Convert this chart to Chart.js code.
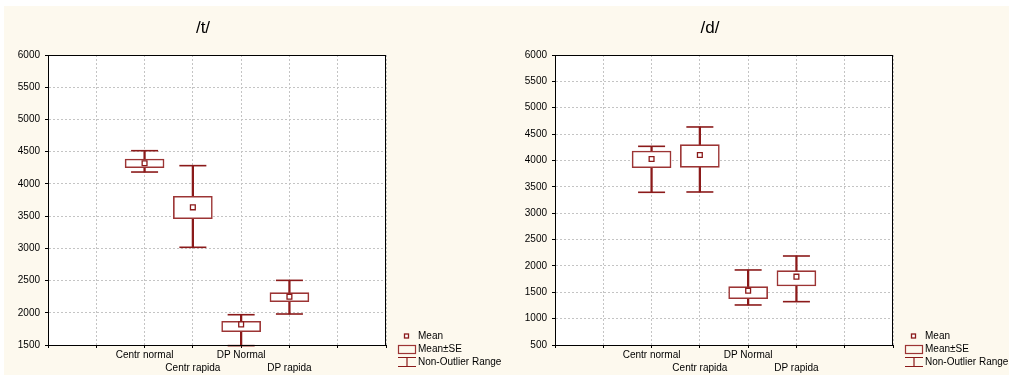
<!DOCTYPE html>
<html>
<head>
<meta charset="utf-8">
<script src="https://cdn.jsdelivr.net/npm/chart.js@4/dist/chart.umd.min.js"></script>
<style>
  html, body { margin: 0; padding: 0; background: #ffffff; }
  body { width: 1009px; height: 379px; position: relative; overflow: hidden; }
  #panel { position: absolute; left: 4px; top: 6px; width: 1005px; height: 369px; background: #fdf9ee; }
  .cell { position: absolute; top: 0; height: 379px; }
</style>
</head>
<body>
<div id="panel"></div>
<div class="cell" style="left:0;width:505px"><canvas id="chartT"></canvas></div>
<div class="cell" style="left:505px;width:504px"><canvas id="chartD"></canvas></div>
<script>
// Groups and where they sit on the 0..7 category axis
const categories = ['Centr normal', 'Centr rapida', 'DP Normal', 'DP rapida'];
const categoryPositions = [2, 3, 4, 5];

// /t/ : mean, mean±SE, non-outlier range
const tMean   = [4320, 3636, 1820, 2250];
const tSeLow  = [4251, 3460, 1707, 2172];
const tSeHigh = [4386, 3807, 1867, 2312];
const tMin    = [4184, 3016, 1490, 1981];
const tMax    = [4515, 4283, 1970, 2503];

// /d/ : mean, mean±SE, non-outlier range
const dMean   = [4028, 4104, 1531, 1796];
const dSeLow  = [3863, 3870, 1379, 1619];
const dSeHigh = [4179, 4299, 1606, 1910];
const dMin    = [3396, 3402, 1259, 1322];
const dMax    = [4268, 4635, 1923, 2188];

// y-axis tick ranges
const tAxis = { min: 1500, max: 6000, step: 500 };
const dAxis = { min: 500, max: 6000, step: 500 };

const legendLabels = ['Mean', 'Mean±SE', 'Non-Outlier Range'];

const RED = '#8b1a1a';
const BOX = '#9c3434';
const GRID = '#c4c4c4';
const FONT = "'Liberation Sans', Arial, sans-serif";
const TITLE_FONT = "'Liberation Sans Narrow', 'Arial Narrow', " + FONT;

function buildDatasets(mean, lo, hi, mn, mx) {
  const caps = [];
  categoryPositions.forEach((x, i) => { caps.push({ x, y: mn[i] }); caps.push({ x, y: mx[i] }); });
  return [
    {
      type: 'line', label: legendLabels[0], order: 0, clip: false,
      data: categoryPositions.map((x, i) => ({ x, y: mean[i] })),
      showLine: false, pointStyle: 'rect', pointRadius: 3.4, pointHoverRadius: 3.4,
      pointBorderWidth: 1.3, pointBorderColor: RED, pointBackgroundColor: '#ffffff'
    },
    {
      type: 'bar', label: legendLabels[1], order: 1, clip: false, grouped: false,
      data: categoryPositions.map((x, i) => ({ x, y: [lo[i], hi[i]] })),
      backgroundColor: '#ffffff', borderColor: BOX, borderWidth: 1.6,
      borderSkipped: false, barThickness: 39
    },
    {
      type: 'line', label: legendLabels[2], order: 2, clip: false,
      data: caps, showLine: false, pointStyle: 'line',
      pointRadius: 13.5, pointHoverRadius: 13.5, pointBorderWidth: 1.6, pointBorderColor: RED
    },
    {
      type: 'bar', label: 'range', order: 3, clip: false, grouped: false,
      data: categoryPositions.map((x, i) => ({ x, y: [mn[i], mx[i]] })),
      backgroundColor: RED, borderWidth: 0, barThickness: 1.6
    }
  ];
}

// White plotting area, closed frame, panel title and the Mean / SE / range key
const framePlugin = {
  id: 'frameKey',
  beforeDraw(chart) {
    const { ctx, chartArea: a } = chart;
    ctx.save();
    ctx.fillStyle = '#ffffff';
    ctx.fillRect(a.left, a.top, a.width, a.height);
    ctx.restore();
  },
  afterDraw(chart, args, opts) {
    const { ctx, chartArea: a } = chart;
    ctx.save();
    ctx.strokeStyle = '#000000';
    ctx.lineWidth = 1;
    ctx.strokeRect(Math.round(a.left) + 0.5, Math.round(a.top) + 0.5,
                   Math.round(a.width) - 1, Math.round(a.height));

    // panel title
    ctx.fillStyle = '#000000';
    ctx.font = '17px ' + TITLE_FONT;
    ctx.textAlign = 'center';
    ctx.textBaseline = 'middle';
    ctx.fillText(opts.title, (a.left + a.right) / 2 - 14, 28);

    // key
    const x0 = a.right + 12;
    const yMean = a.bottom - 9;
    ctx.font = '10px ' + FONT;
    ctx.textAlign = 'left';
    const tx = a.right + 32;
    ctx.fillText(legendLabels[0], tx, yMean);
    ctx.fillText(legendLabels[1], tx, yMean + 13);
    ctx.fillText(legendLabels[2], tx, yMean + 26);

    ctx.strokeStyle = RED;
    ctx.fillStyle = '#ffffff';
    ctx.lineWidth = 1.3;
    ctx.fillRect(x0 + 6.5, yMean - 2, 4, 4);
    ctx.strokeRect(x0 + 6.5, yMean - 2, 4, 4);

    ctx.strokeStyle = BOX;
    ctx.lineWidth = 1.2;
    ctx.strokeRect(x0 + 0.5, yMean + 9.5, 17, 8);

    ctx.strokeStyle = RED;
    ctx.beginPath();
    ctx.moveTo(x0, yMean + 21.5); ctx.lineTo(x0 + 18, yMean + 21.5);
    ctx.moveTo(x0 + 9, yMean + 21.5); ctx.lineTo(x0 + 9, yMean + 30.5);
    ctx.moveTo(x0, yMean + 30.5); ctx.lineTo(x0 + 18, yMean + 30.5);
    ctx.stroke();
    ctx.restore();
  }
};

function xLabel(v) {
  const i = categoryPositions.indexOf(v);
  if (i < 0) return '';
  return i % 2 === 1 ? ['', categories[i]] : categories[i];
}

function buildChart(id, title, axis, datasets, pad) {
  return new Chart(document.getElementById(id), {
    type: 'bar',
    data: { datasets },
    plugins: [framePlugin],
    options: {
      responsive: true,
      maintainAspectRatio: false,
      animation: false,
      events: [],
      layout: { padding: pad },
      plugins: {
        legend: { display: false },
        tooltip: { enabled: false },
        title: { display: false },
        frameKey: { title }
      },
      scales: {
        x: {
          type: 'linear', min: 0, max: 7, offset: false,
          afterFit(s) { s.height = 30; },
          ticks: {
            stepSize: 1, autoSkip: false, maxRotation: 0, padding: 1,
            color: '#000000', font: { family: FONT, size: 10, lineHeight: 1.3 },
            callback: xLabel
          },
          grid: { offset: false, color: GRID, tickColor: '#000000', tickLength: 3, lineWidth: 1 },
          border: { display: true, color: '#000000', width: 1, dash: [2, 2] }
        },
        y: {
          min: axis.min, max: axis.max,
          afterFit(s) { s.width = 40; },
          ticks: {
            stepSize: axis.step, padding: 5, color: '#000000',
            font: { family: FONT, size: 10 },
            callback: v => String(v)
          },
          grid: { color: GRID, tickColor: '#000000', tickLength: 3, lineWidth: 1 },
          border: { display: true, color: '#000000', width: 1, dash: [2, 2] }
        }
      }
    }
  });
}

buildChart('chartT', '/t/', tAxis,
  buildDatasets(tMean, tSeLow, tSeHigh, tMin, tMax),
  { left: 8, right: 119, top: 55, bottom: 4 });

buildChart('chartD', '/d/', dAxis,
  buildDatasets(dMean, dSeLow, dSeHigh, dMin, dMax),
  { left: 10, right: 116, top: 55, bottom: 4 });
</script>
</body>
</html>
